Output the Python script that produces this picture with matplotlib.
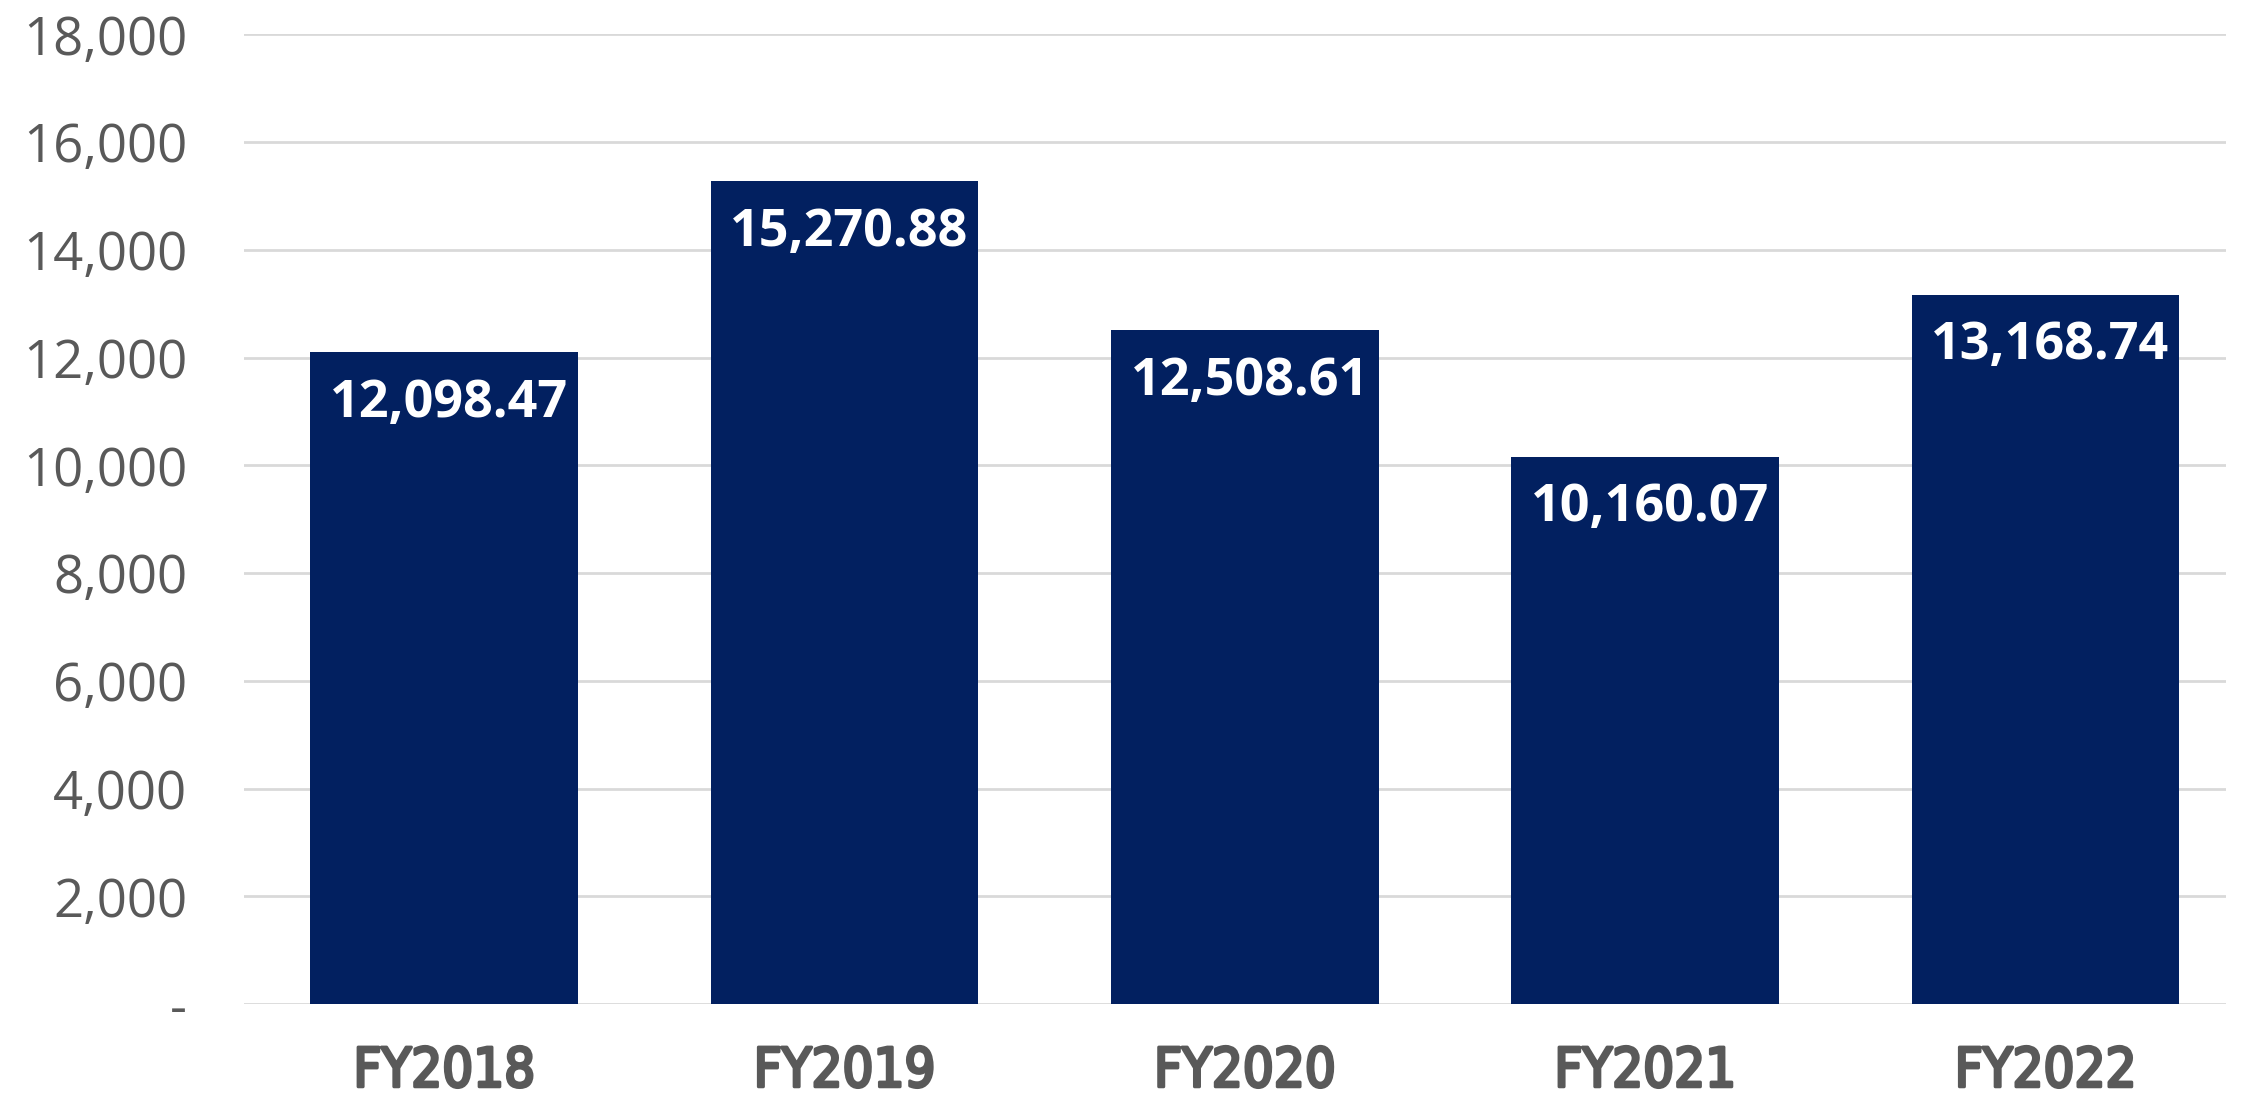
import matplotlib
matplotlib.use("Agg")
import matplotlib.pyplot as plt
from matplotlib import font_manager as fm
from matplotlib import patheffects as pe
from matplotlib.ticker import FuncFormatter

categories = ["FY2018", "FY2019", "FY2020", "FY2021", "FY2022"]
values = [12098.47, 15270.88, 12508.61, 10160.07, 13168.74]
yticks = [0, 2000, 4000, 6000, 8000, 10000, 12000, 14000, 16000, 18000]

BAR = "#022060"
GRAY = "#595959"

# condensed / narrow font for the category labels (faux-bold via stroke)
cands = []
for f in fm.fontManager.ttflist:
    nm = f.name + " " + f.fname
    if ("Narrow" in nm or "Condensed" in nm) and f.style == "normal":
        w = f.weight if isinstance(f.weight, int) else 400
        cands.append((abs(w - 400), f.fname))
if cands:
    cands.sort()
    xprop = fm.FontProperties(fname=cands[0][1], size=39)
    xeff = [pe.withStroke(linewidth=2.3, foreground=GRAY)]
else:
    xprop = fm.FontProperties(family="Roboto", weight="bold", size=35)
    xeff = []

fig = plt.figure(figsize=(22.55, 10.95), dpi=100)
ax = fig.add_axes([0.1082, 0.0831, 0.987 - 0.1082, 0.9685 - 0.0831])

x = range(len(categories))
ax.bar(x, values, width=0.668, color=BAR, zorder=3)

ax.set_xlim(-0.5, len(categories) - 0.55)
ax.set_ylim(0, 18000)
ax.set_yticks(yticks)
ax.yaxis.set_major_formatter(FuncFormatter(lambda v, p: "-" if v == 0 else f"{v:,.0f}"))
ax.grid(axis="y", color="#D9D9D9", linewidth=2, zorder=0)
ax.set_axisbelow(True)
for s in ax.spines.values():
    s.set_visible(False)
ax.tick_params(axis="both", length=0)
ax.tick_params(axis="y", pad=41, labelcolor=GRAY)
ax.tick_params(axis="x", pad=30, labelcolor=GRAY)

for lab in ax.get_yticklabels():
    lab.set_fontfamily("Open Sans")
    lab.set_fontsize(38)

ax.set_xticks(list(x))
ax.set_xticklabels(categories)
for lab in ax.get_xticklabels():
    lab.set_fontproperties(xprop)
    lab.set_path_effects(xeff)

for xi, v in zip(x, values):
    ax.annotate(f"{v:,.2f}", xy=(xi, v), xytext=(5, -51), textcoords="offset pixels",
                ha="center", va="center", color="white", fontsize=37.5,
                fontweight="bold", fontfamily="Open Sans", zorder=4)

fig.savefig("out.png", dpi=100)
